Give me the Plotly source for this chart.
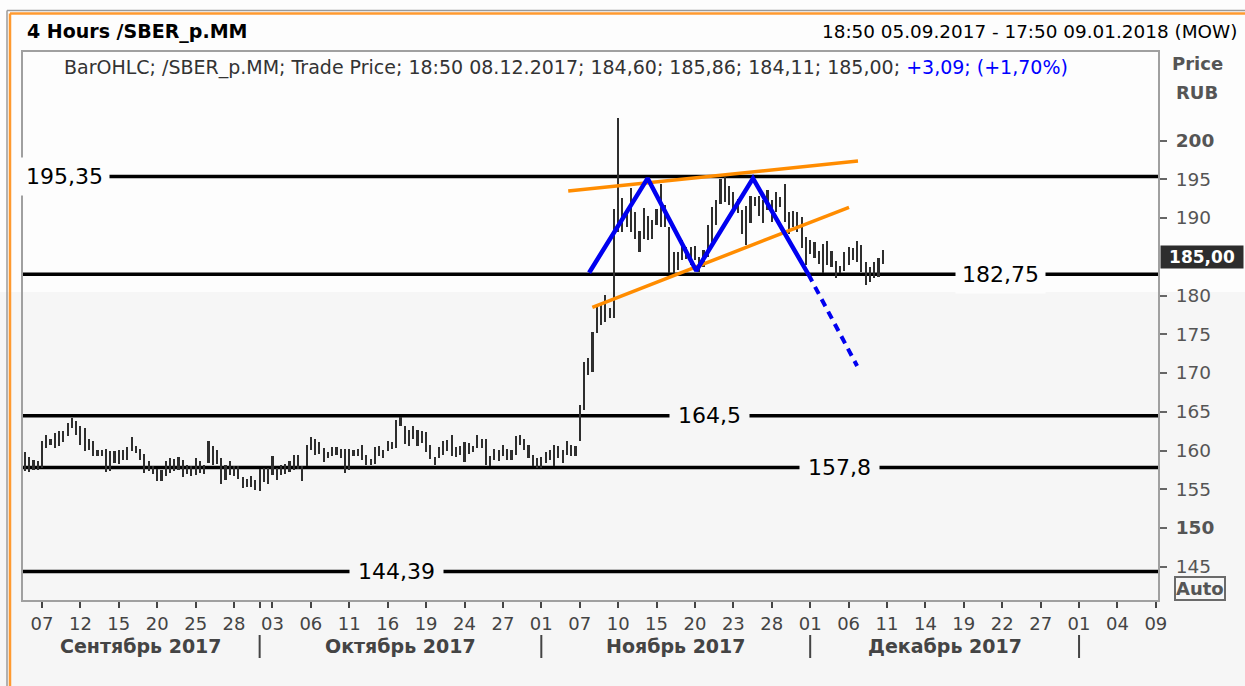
import plotly.graph_objects as go
import pandas as pd

# ---------------- data ----------------
first_bar_index = 2          # first bar = 3rd 4-hour slot of 05.09.2017
bars_per_day = 3

highs = [
    159.76, 159.16, 158.82, 158.60, 161.18, 162.04, 161.48, 162.25, 162.46, 162.46,
    163.54, 164.18, 163.75, 163.11, 162.89, 161.48, 161.18, 160.11, 160.02, 160.19,
    159.89, 159.89, 160.02, 160.02, 160.45, 161.74, 160.53, 160.19, 159.59, 158.60,
    158.05, 157.62, 157.53, 158.60, 159.03, 158.90, 159.16, 158.82, 158.17, 158.05,
    159.03, 158.60, 158.17, 161.26, 160.53, 160.02, 159.03, 158.17, 158.60, 158.05,
    157.96, 156.59, 156.33, 156.67, 156.24, 157.62, 157.75, 157.75, 159.33, 157.75,
    158.17, 158.30, 158.60, 159.46, 159.46,
    157.96, 160.75, 161.74, 161.48, 161.05, 160.32, 159.76, 160.45, 160.45, 160.19,
    160.19, 160.19, 160.11, 160.19, 160.75, 159.46, 158.90, 160.45, 160.53, 160.02,
    161.26, 161.05, 163.97, 164.31, 163.19, 162.59, 163.19, 162.68, 162.46, 162.34,
    160.75, 159.16, 160.45, 161.18, 161.31, 162.04, 160.45, 160.53, 161.05, 160.96,
    160.53, 162.04, 161.48, 161.48, 159.33, 160.19, 160.02, 160.75, 160.19, 160.11,
    161.82, 162.04, 161.48, 160.75, 159.46, 159.03, 159.16, 159.76, 160.11, 160.75,
    160.53, 160.02, 161.18, 160.75, 160.53,
    165.90, 171.47, 171.90, 175.33, 178.55, 178.98, 180.05, 178.33, 191.20, 202.96,
    192.62, 190.60, 193.91, 190.77, 188.33, 191.29, 190.22, 189.70, 191.20, 194.34,
    191.63, 188.85, 185.63, 185.63, 187.13, 186.27, 186.27, 186.36, 184.98, 185.84,
    189.06, 191.42, 192.28, 195.07, 195.30, 194.10,
    193.30, 192.40, 191.00, 191.60, 192.80, 192.70, 192.90, 192.30, 193.60, 192.30,
    193.30, 192.70, 194.40, 190.80, 190.90, 190.80, 190.10, 187.60, 187.10, 186.90,
    185.80, 186.60, 187.00, 185.80, 184.50, 183.80, 185.60, 186.30, 186.10, 187.00,
    186.50, 184.30, 183.70, 184.30, 184.80, 185.86,
]
lows = [
    157.32, 157.19, 157.45, 157.53, 157.75, 160.32, 160.75, 160.32, 160.53, 161.05,
    161.82, 162.89, 162.04, 160.75, 159.89, 160.11, 159.25, 159.25, 159.25, 157.19,
    157.32, 158.39, 158.30, 158.73, 158.73, 159.89, 159.68, 158.73, 157.10, 157.32,
    157.02, 156.03, 156.03, 156.67, 157.10, 157.32, 157.53, 156.59, 157.02, 156.76,
    156.89, 157.10, 157.02, 158.39, 158.17, 158.30, 155.73, 156.24, 156.89, 156.76,
    156.33, 155.17, 155.30, 155.30, 154.96, 154.74, 155.90, 155.73, 156.89, 156.24,
    156.89, 157.02, 157.19, 157.53, 157.62,
    156.03, 157.96, 160.11, 159.46, 159.59, 158.47, 159.03, 159.33, 159.46, 159.03,
    157.10, 157.53, 159.33, 159.25, 158.73, 158.17, 158.17, 158.30, 159.33, 159.03,
    159.89, 160.19, 160.32, 163.11, 160.88, 160.53, 161.48, 160.62, 160.96, 159.76,
    158.90, 158.17, 159.03, 159.46, 159.89, 159.25, 159.16, 159.46, 158.47, 159.59,
    159.76, 160.32, 160.32, 158.17, 158.05, 158.82, 158.60, 159.33, 158.73, 158.82,
    159.46, 160.75, 160.11, 159.03, 157.96, 157.75, 157.75, 158.39, 158.82, 157.96,
    159.03, 158.39, 159.46, 159.25, 159.25,
    161.20, 165.25, 169.75, 170.18, 175.12, 176.19, 176.62, 177.05, 177.05, 188.20,
    188.20, 188.80, 188.20, 187.34, 185.63, 187.34, 187.13, 187.34, 189.06, 188.85,
    188.85, 182.84, 182.84, 183.27, 184.56, 184.77, 183.91, 184.56, 183.05, 183.70,
    184.98, 186.91, 189.06, 191.85, 192.10, 191.70,
    191.20, 190.60, 188.00, 186.50, 189.40, 191.60, 190.30, 189.30, 191.00, 189.50,
    190.80, 191.40, 189.50, 188.00, 188.80, 188.20, 186.10, 183.90, 185.40, 184.80,
    184.10, 182.90, 183.90, 183.70, 182.20, 182.90, 183.10, 183.90, 184.60, 184.30,
    183.00, 181.30, 181.80, 182.20, 182.40, 184.11,
]

# support / resistance levels
levels = [195.35, 182.75, 164.5, 157.8, 144.39]
level_labels = ["195,35", "182,75", "164,5", "157,8", "144,39"]
level_label_pos = [11.2, 230.7, 162.3, 192.8, 89.0]   # bar-index position of label centre

# double-top pattern (bar index, price)
pattern_x = [134.2, 147.9, 159.3, 172.6, 185.6]
pattern_y = [182.94, 195.12, 183.2, 195.12, 182.71]
target_x = [185.6, 197.0]
target_y = [182.71, 170.9]
upper_ch_x = [129.3, 197.2]
upper_ch_y = [193.48, 197.35]
lower_ch_x = [134.96, 195.1]
lower_ch_y = [178.48, 191.38]

# axis ticks
tick_dates = ["2017-09-07", "2017-09-12", "2017-09-15", "2017-09-20", "2017-09-25",
              "2017-09-28", "2017-10-02", "2017-10-03", "2017-10-06", "2017-10-11",
              "2017-10-16", "2017-10-19", "2017-10-24", "2017-10-27", "2017-11-01",
              "2017-11-07", "2017-11-10", "2017-11-15", "2017-11-20", "2017-11-23",
              "2017-11-28", "2017-12-01", "2017-12-06", "2017-12-11", "2017-12-14",
              "2017-12-19", "2017-12-22", "2017-12-27", "2018-01-01", "2018-01-04",
              "2018-01-09"]
tick_labels = ["07", "12", "15", "20", "25", "28", "", "03", "06", "11", "16", "19",
               "24", "27", "01", "07", "10", "15", "20", "23", "28", "01", "06", "11",
               "14", "19", "22", "27", "01", "04", "09"]
month_names = ["Сентябрь 2017", "Октябрь 2017", "Ноябрь 2017", "Декабрь 2017"]
month_starts = ["2017-10-02", "2017-11-01", "2017-12-01", "2018-01-01"]
holidays = ["2017-11-06"]

y_ticks = [145, 150, 155, 160, 165, 170, 175, 180, 190, 195, 200]
y_bold = [150, 200]
last_price = 185.00

# ---------------- layout geometry ----------------
W, H = 1245, 686
L, R, T, B = 23, 87, 52, 86
PW, PH = W - L - R, H - T - B
XR = [1.55, 267.5]
YR = [140.71, 211.42]
BAND = 292   # pixel row where the white upper band turns grey

def px(x):
    return (x - L) / PW

def py(y):
    return (H - B - y) / PH

def ix2paper(i):
    return (i - XR[0]) / (XR[1] - XR[0])

days = [d for d in pd.bdate_range("2017-09-05", "2018-01-09")
        if d.strftime("%Y-%m-%d") not in holidays]
day_index = {d.strftime("%Y-%m-%d"): k for k, d in enumerate(days)}

def bar_pos(date):
    return day_index[date] * bars_per_day

tick_vals = [bar_pos(d) for d in tick_dates]

xs = list(range(first_bar_index, first_bar_index + len(highs)))
spans = [h - l for h, l in zip(highs, lows)]

FONT = "DejaVu Sans"

fig = go.Figure()
fig.add_trace(go.Bar(x=xs, y=spans, base=lows, width=0.5,
                     marker=dict(color="#2e2e2e", line=dict(width=0)),
                     hoverinfo="skip"))
fig.add_trace(go.Scatter(x=upper_ch_x, y=upper_ch_y, mode="lines",
                         line=dict(color="#ff8c00", width=3.5), hoverinfo="skip"))
fig.add_trace(go.Scatter(x=lower_ch_x, y=lower_ch_y, mode="lines",
                         line=dict(color="#ff8c00", width=3.5), hoverinfo="skip"))
fig.add_trace(go.Scatter(x=pattern_x, y=pattern_y, mode="lines",
                         line=dict(color="#0000f0", width=4.5), hoverinfo="skip"))
fig.add_trace(go.Scatter(x=target_x, y=target_y, mode="lines",
                         line=dict(color="#0000f0", width=4, dash="8px,6px"),
                         hoverinfo="skip"))

shapes = []
shapes.append(dict(type="rect", xref="paper", yref="paper",
                   x0=px(0), x1=px(W), y0=py(0), y1=py(BAND),
                   fillcolor="#fdfdfd", line=dict(width=0), layer="below"))
# outer frame
shapes.append(dict(type="line", xref="paper", yref="paper", x0=px(7), x1=px(W),
                   y0=py(10.5), y1=py(10.5), line=dict(color="#9a9a9a", width=1.5)))
shapes.append(dict(type="line", xref="paper", yref="paper", x0=px(10), x1=px(W),
                   y0=py(13.5), y1=py(13.5), line=dict(color="#ff9a30", width=2.5)))
shapes.append(dict(type="line", xref="paper", yref="paper", x0=px(7), x1=px(7),
                   y0=py(10.5), y1=py(H), line=dict(color="#9a9a9a", width=1.5)))
shapes.append(dict(type="line", xref="paper", yref="paper", x0=px(10), x1=px(10),
                   y0=py(13.5), y1=py(H), line=dict(color="#ff9a30", width=2.5)))
for lv in levels:
    shapes.append(dict(type="line", xref="paper", yref="y", x0=0, x1=1, y0=lv, y1=lv,
                       line=dict(color="#000000", width=3.5), layer="below"))
for m in month_starts:
    xp = ix2paper(bar_pos(m))
    shapes.append(dict(type="line", xref="paper", yref="paper", x0=xp, x1=xp,
                       y0=py(635), y1=py(658), line=dict(color="#444444", width=2)))

def note(text, x, y, size, color="#000000", xanchor="center", **kw):
    d = dict(text=text, xref="paper", yref="paper", x=x, y=y, xanchor=xanchor,
             yanchor="middle", showarrow=False,
             font=dict(family=FONT, size=size, color=color))
    d.update(kw)
    return d

ann = []
ann.append(note("<b>4 Hours /SBER_p.MM</b>", px(25), py(32), 19, xanchor="left"))
ann.append(note("18:50 05.09.2017 - 17:50 09.01.2018 (MOW)", px(1239), py(32), 18.4,
                xanchor="right"))
ann.append(note("BarOHLC; /SBER_p.MM; Trade Price; 18:50 08.12.2017; 184,60; "
                "185,86; 184,11; 185,00; "
                "<span style='color:#0000ff'>+3,09; (+1,70%)</span>",
                px(62), py(68), 19, "#333333", xanchor="left"))
ann.append(note("<b>Price</b>", px(1197), py(64), 18, "#555555"))
ann.append(note("<b>RUB</b>", px(1197), py(92), 18, "#555555"))
ann.append(note("<b>Auto</b>", px(1200), py(588), 18, "#555555",
                bordercolor="#6a6a6a", borderwidth=2, borderpad=0))
ann.append(dict(text="<b>185,00</b>", xref="paper", yref="y", x=px(1160), y=last_price,
                xanchor="left", yanchor="middle", showarrow=False, bgcolor="#2d2d2d",
                width=80, height=20, borderpad=1,
                font=dict(family=FONT, size=17, color="#ffffff")))
for lv, lab, pos in zip(levels, level_labels, level_label_pos):
    bg = "#fdfdfd" if lv > 181 else "#f6f6f6"
    ann.append(dict(text=lab, x=pos, y=lv, xref="x", yref="y", showarrow=False,
                    xanchor="center", yanchor="middle",
                    bgcolor=bg, borderpad=6 if lv > 181 else 8,
                    font=dict(family=FONT, size=22, color="#000000")))
bounds = [XR[0]] + [bar_pos(m) for m in month_starts]
for name, a, b in zip(month_names, bounds[:-1], bounds[1:]):
    ann.append(note("<b>%s</b>" % name, ix2paper((a + b) / 2), py(646), 19, "#444444"))

fig.update_layout(
    width=W, height=H,
    margin=dict(l=L, r=R, t=T, b=B),
    paper_bgcolor="#f6f6f6", plot_bgcolor="rgba(0,0,0,0)",
    showlegend=False, bargap=0,
    shapes=shapes, annotations=ann,
    xaxis=dict(range=XR, tickmode="array", tickvals=tick_vals, ticktext=tick_labels,
               ticks="outside", ticklen=6, tickwidth=1.5, tickcolor="#444444",
               tickfont=dict(family=FONT, size=18, color="#444444"),
               showgrid=False, zeroline=False, showline=True, mirror=True,
               linecolor="#a0a0a0", linewidth=2, fixedrange=True),
    yaxis=dict(range=YR, side="right", tickmode="array", tickvals=y_ticks,
               ticktext=[("<b>%d</b>" % v) if v in y_bold else str(v) for v in y_ticks],
               ticks="outside", ticklen=7, tickwidth=1.5, tickcolor="#666666",
               ticklabelstandoff=5,
               tickfont=dict(family=FONT, size=18.5, color="#555555"),
               showgrid=False, zeroline=False, showline=True, mirror=True,
               linecolor="#a0a0a0", linewidth=2, fixedrange=True),
)

fig.write_html("out.html", config={"displayModeBar": False},
               post_script="document.body.style.margin='0';"
                           "document.body.style.overflow='hidden';")
